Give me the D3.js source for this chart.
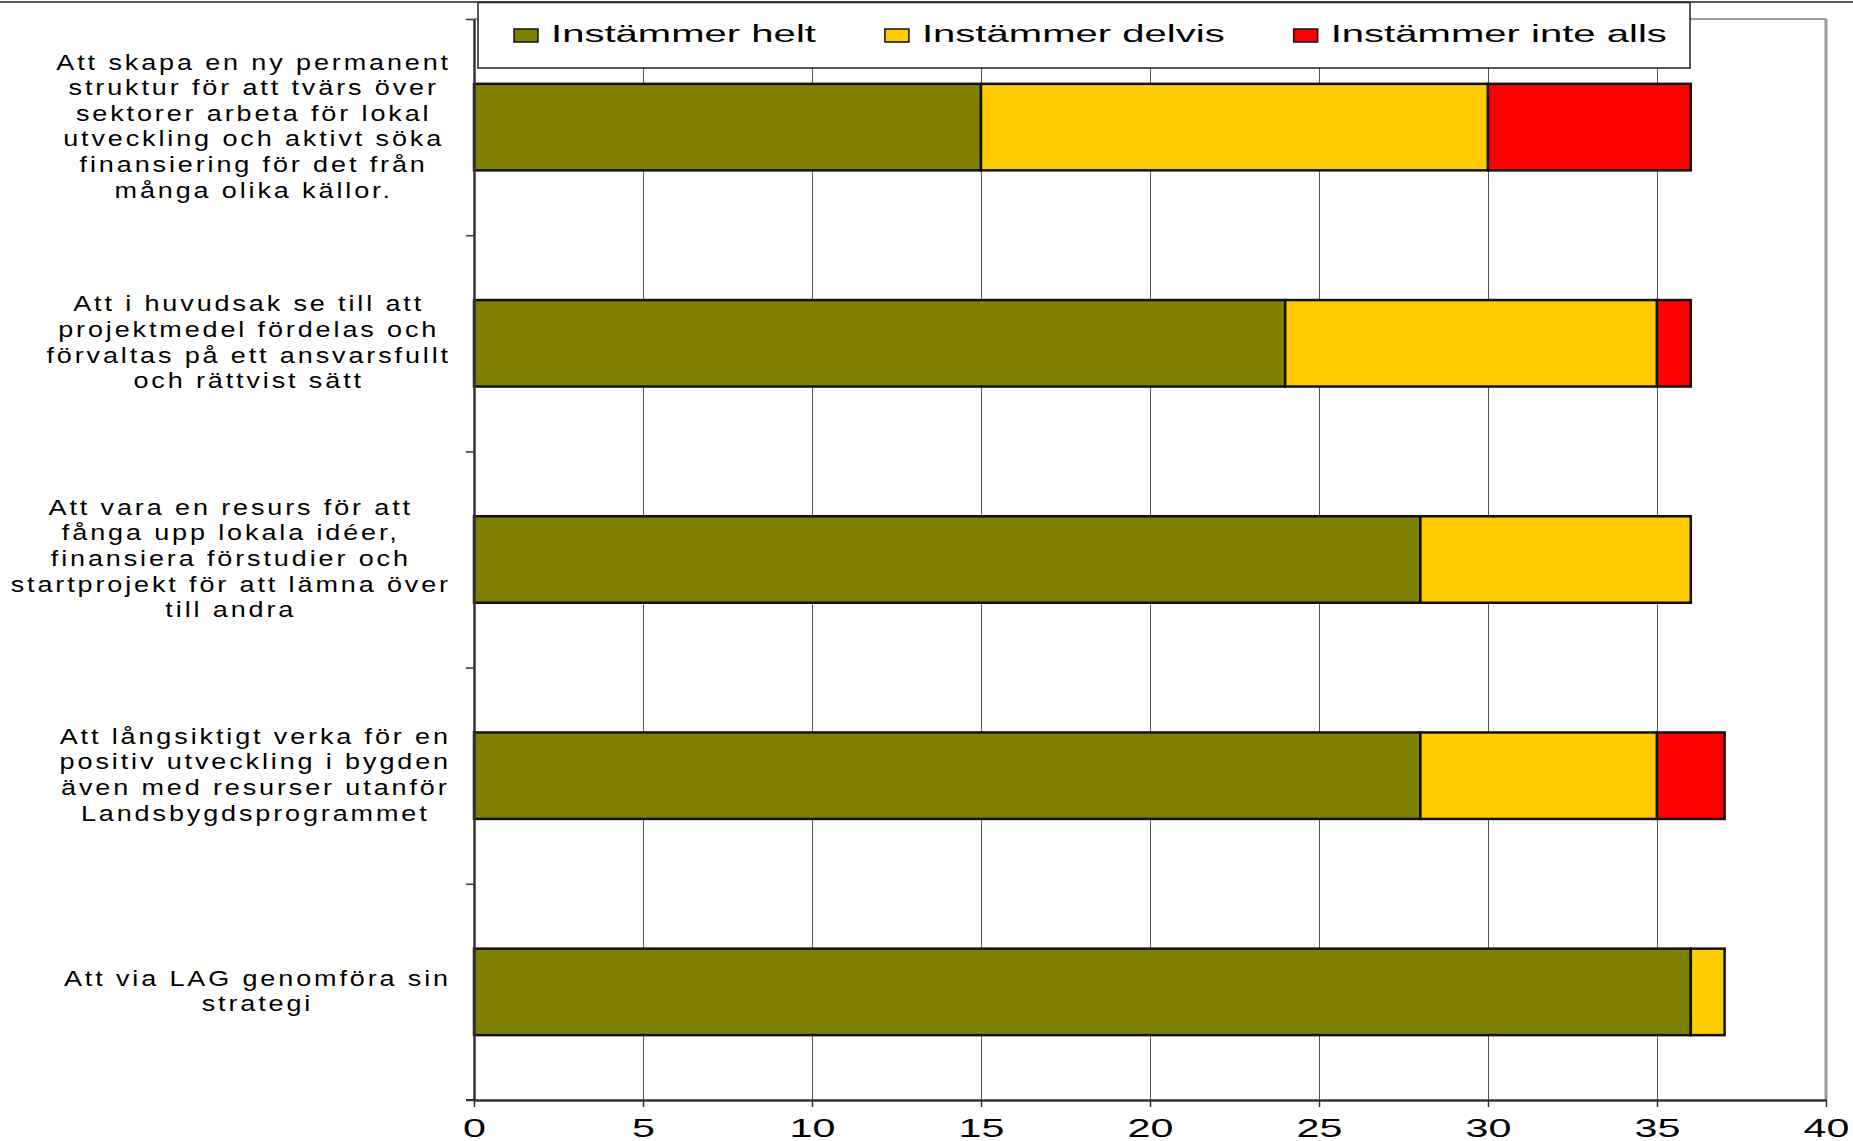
<!DOCTYPE html>
<html>
<head>
<meta charset="utf-8">
<script src="https://cdn.jsdelivr.net/npm/d3@7"></script>
<style>
  body { margin: 0; background: #fff; }
  svg { display: block; }
  text { font-family: "Liberation Sans", Arial, sans-serif; fill: #000; }
</style>
</head>
<body>
<svg id="chart" width="1853" height="1141"></svg>
<script>
// Category labels, one array of lines per bar (top to bottom)
const categories = [
  ["Att skapa en ny permanent", "struktur för att tvärs över", "sektorer arbeta för lokal",
   "utveckling och aktivt söka", "finansiering för det från", "många olika källor."],
  ["Att i huvudsak se till att", "projektmedel fördelas och", "förvaltas på ett ansvarsfullt",
   "och rättvist sätt"],
  ["Att vara en resurs för att", "fånga upp lokala idéer,", "finansiera förstudier och",
   "startprojekt för att lämna över", "till andra"],
  ["Att långsiktigt verka för en", "positiv utveckling i bygden", "även med resurser utanför",
   "Landsbygdsprogrammet"],
  ["Att via LAG genomföra sin", "strategi"]
];

const seriesNames = ["Instämmer helt", "Instämmer delvis", "Instämmer inte alls"];
const helt = [15, 24, 28, 28, 36];
const delvis = [15, 11, 8, 7, 1];
const inteAlls = [6, 1, 0, 2, 0];
const xTicks = [0, 5, 10, 15, 20, 25, 30, 35, 40];
const colors = ["#808000", "#FFCC00", "#FF0000"];

const svg = d3.select("#chart");

// plot area
const plotLeft = 474, plotRight = 1826, plotTop = 19, plotBottom = 1100;

const x = d3.scaleLinear().domain([0, 40]).range([plotLeft, plotRight]);
const y = d3.scaleBand()
  .domain(d3.range(categories.length))
  .range([plotTop, plotBottom])
  .paddingInner(0.6)
  .paddingOuter(0.3);

// stack the three series
const rows = categories.map((c, i) => ({
  [seriesNames[0]]: helt[i],
  [seriesNames[1]]: delvis[i],
  [seriesNames[2]]: inteAlls[i],
  idx: i
}));
const stacked = d3.stack().keys(seriesNames)(rows);

// page rule at the very top
svg.append("line")
  .attr("x1", 0).attr("x2", 1853)
  .attr("y1", 2).attr("y2", 2)
  .attr("stroke", "#222").attr("stroke-width", 1.5);

// vertical gridlines
svg.append("g")
  .attr("transform", `translate(0,${plotBottom})`)
  .call(d3.axisBottom(x).tickValues(xTicks.slice(1, -1)).tickSize(-(plotBottom - plotTop)).tickFormat(""))
  .call(g => g.select(".domain").remove())
  .call(g => g.selectAll("line").attr("stroke", "#555").attr("stroke-width", 1));

// plot frame: top and right (grey)
svg.append("line")
  .attr("x1", plotLeft).attr("x2", plotRight)
  .attr("y1", plotTop).attr("y2", plotTop)
  .attr("stroke", "#999").attr("stroke-width", 2);
svg.append("line")
  .attr("x1", plotRight).attr("x2", plotRight)
  .attr("y1", plotTop).attr("y2", plotBottom)
  .attr("stroke", "#999").attr("stroke-width", 3);

// legend box
const legend = svg.append("g");
legend.append("rect")
  .attr("x", 478).attr("y", 2.5)
  .attr("width", 1212).attr("height", 65.5)
  .attr("fill", "#fff").attr("stroke", "#222").attr("stroke-width", 1.5);

const legendScale = 1.67;
let lx = 514;
seriesNames.forEach((name, i) => {
  legend.append("rect")
    .attr("x", lx).attr("y", 29)
    .attr("width", 24).attr("height", 13)
    .attr("fill", colors[i]).attr("stroke", "#111").attr("stroke-width", 1.5);
  const t = legend.append("text")
    .attr("transform", `translate(${lx + 37},42) scale(${legendScale},1)`)
    .attr("font-size", 24)
    .text(name);
  lx += 37 + t.node().getComputedTextLength() * legendScale + 69;
});

// bars
svg.append("g")
  .selectAll("g")
  .data(stacked)
  .join("g")
  .attr("fill", (d, i) => colors[i])
  .selectAll("rect")
  .data(d => d.filter(s => s[1] - s[0] > 0))
  .join("rect")
  .attr("x", d => x(d[0]))
  .attr("y", d => y(d.data.idx))
  .attr("width", d => x(d[1]) - x(d[0]))
  .attr("height", y.bandwidth())
  .attr("stroke", "#111")
  .attr("stroke-width", 2.5);

// y axis with ticks at band boundaries
const yEdges = d3.scaleLinear().domain([0, categories.length]).range([plotTop, plotBottom]);
svg.append("g")
  .attr("transform", `translate(${plotLeft},0)`)
  .call(d3.axisLeft(yEdges).tickValues(d3.range(categories.length + 1)).tickSize(8).tickSizeOuter(0).tickFormat(""))
  .call(g => g.select(".domain").attr("stroke", "#333").attr("stroke-width", 2.5))
  .call(g => g.selectAll(".tick line").attr("stroke", "#333").attr("stroke-width", 1.5));

// x axis
svg.append("g")
  .attr("transform", `translate(0,${plotBottom})`)
  .call(d3.axisBottom(x).tickValues(xTicks).tickSize(7).tickSizeOuter(0).tickFormat(d3.format("d")))
  .call(g => g.select(".domain").attr("stroke", "#333").attr("stroke-width", 2.5))
  .call(g => g.selectAll(".tick line").attr("stroke", "#333").attr("stroke-width", 1.5))
  .call(g => g.selectAll(".tick text")
    .attr("y", 0).attr("dy", null)
    .attr("font-size", 25)
    .attr("fill", "#000")
    .attr("font-family", "\"Liberation Sans\", Arial, sans-serif")
    .attr("transform", "translate(0,37) scale(1.65,1)"));
svg.append("line")
  .attr("x1", plotLeft - 8).attr("x2", plotLeft)
  .attr("y1", plotBottom).attr("y2", plotBottom)
  .attr("stroke", "#333").attr("stroke-width", 2);

// category labels: lines centred, block right-aligned by its widest line
const labelScale = 1.2, labelRight = 451, lineH = 25.6;
categories.forEach((lines, i) => {
  const cy = y(i) + y.bandwidth() / 2;
  const g = svg.append("g");
  const texts = lines.map((line, j) =>
    g.append("text")
      .attr("text-anchor", "middle")
      .attr("font-size", 22.5)
      .attr("letter-spacing", 2.4)
      .attr("y", cy + (j - (lines.length - 1) / 2) * lineH + 6.5)
      .text(line)
  );
  const maxW = d3.max(texts, t => t.node().getBBox().width) * labelScale;
  const cx = labelRight - maxW / 2;
  texts.forEach(t => t.attr("transform", `translate(${cx},0) scale(${labelScale},1)`));
});
</script>
</body>
</html>
